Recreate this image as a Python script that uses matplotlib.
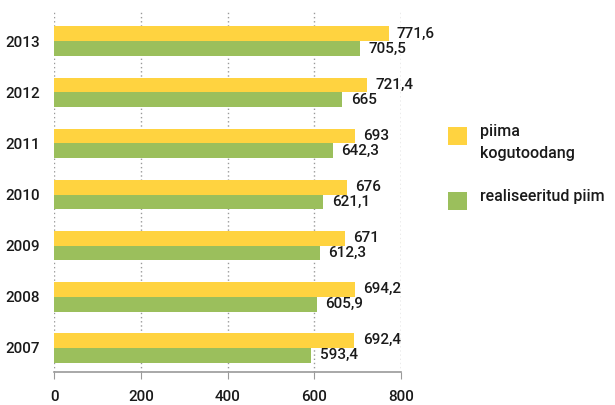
import numpy as np
import matplotlib
matplotlib.use('Agg')
import matplotlib.pyplot as plt
from matplotlib.patches import Rectangle

plt.rcParams['font.family'] = ['Roboto', 'DejaVu Sans']
plt.rcParams['font.weight'] = 'medium'

years = ['2007', '2008', '2009', '2010', '2011', '2012', '2013']
kogutoodang = [692.4, 694.2, 671, 676, 693, 721.4, 771.6]
realiseeritud = [593.4, 605.9, 612.3, 621.1, 642.3, 665, 705.5]
series_names = ['piima\nkogutoodang', 'realiseeritud piim']
colors = ['#FFD340', '#9BBF5C']


def fmt(v):
    s = ('%.1f' % v).rstrip('0').rstrip('.')
    return s.replace('.', ',')


W, H = 615, 405
fig = plt.figure(figsize=(W / 100, H / 100), dpi=100)
ax = fig.add_axes([0.088, 0.082, 0.564, 0.888])

y = np.arange(len(years))
h = 0.29
ax.barh(y + h / 2, kogutoodang, height=h, color=colors[0], zorder=3)
ax.barh(y - h / 2, realiseeritud, height=h, color=colors[1], zorder=3)

for yi, a, b in zip(y, kogutoodang, realiseeritud):
    ax.annotate(fmt(a), (a, yi + h / 2), xytext=(6, 0), textcoords='offset points',
                va='center', ha='left', fontsize=11, color='#1a1a1a')
    ax.annotate(fmt(b), (b, yi - h / 2), xytext=(6, 0), textcoords='offset points',
                va='center', ha='left', fontsize=11, color='#1a1a1a')

ax.set_xlim(0, 800)
ax.set_ylim(-0.47, 6.57)
ax.set_xticks([0, 200, 400, 600, 800])
ax.set_yticks(y)
ax.set_yticklabels(years)
ax.tick_params(axis='y', length=0, pad=10, labelsize=11, labelcolor='#1a1a1a')
ax.tick_params(axis='x', length=5, color='#999999', labelsize=11, labelcolor='#1a1a1a', pad=8)
ax.xaxis.grid(True, linestyle=(0, (1, 2)), color='#999999', linewidth=1, zorder=0)
for side in ['top', 'right', 'left']:
    ax.spines[side].set_visible(False)
ax.spines['bottom'].set_color('#999999')
ax.spines['bottom'].set_linewidth(1.2)

# legend drawn by hand: swatch top-aligned with first text line
legend_top = [127, 192]
for top, name, c in zip(legend_top, series_names, colors):
    fig.add_artist(Rectangle((448 / W, 1 - (top + 18) / H), 19 / W, 18 / H,
                             transform=fig.transFigure, color=c, lw=0))
    fig.text(480 / W, 1 - (top - 3) / H, name, ha='left', va='top',
             fontsize=11.5, color='#1a1a1a', linespacing=1.6)

fig.savefig('out.png', dpi=100)
